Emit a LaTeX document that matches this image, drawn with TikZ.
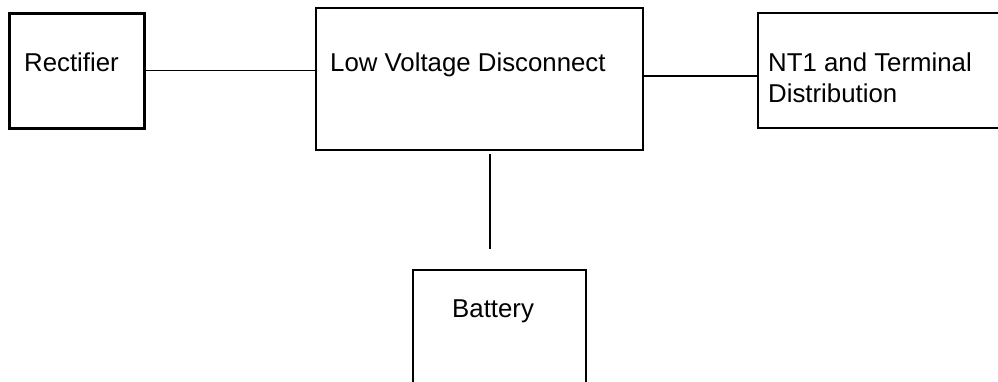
\documentclass[tikz,border=0pt]{standalone}
\usepackage{fontspec}
\setmainfont{Liberation Sans}

\begin{document}
\begin{tikzpicture}[x=1pt, y=-1pt,
        box/.style={draw, line width=2.2pt, inner sep=0pt},
        lbl/.style={font=\fontsize{25.8}{31}\selectfont, inner sep=0pt, align=left},
        wire/.style={line width=1.9pt}]
        \clip (0,0) rectangle (998,381);

        % Nodes
        \node[box, line width=3pt, minimum width=135pt, minimum height=115pt] (rect) at (76.5,70.5) {};
        \node[box, minimum width=327pt, minimum height=142pt] (lvd) at (479.5,79) {};
        \node[box, minimum width=252pt, minimum height=115pt] (nt) at (884,70.5) {};
        \node[box, minimum width=173pt, minimum height=130pt] (bat) at (499.5,335) {};
        \coordinate (tap) at (490,249);

        % Labels
        \node[lbl, anchor=base west] (rectlbl) at (24,71) {Rectifier};
        \node[lbl, anchor=base west] (lvdlbl) at (330,71) {Low Voltage Disconnect};
        \node[lbl, anchor=north west, text depth=0pt] (ntlbl) at (768,53) {NT1 and Terminal\\Distribution};
        \node[lbl, anchor=base west] (batlbl) at (452,317) {Battery};

        % Edges
        \draw[wire] (rect.east) -- (rect.east -| lvd.west);
        \draw[wire] ([yshift=3pt]lvd.east) -- ([yshift=3pt]lvd.east -| nt.west);
        \draw[wire] ([xshift=10.5pt,yshift=-3pt]lvd.south) -- (tap);
    \end{tikzpicture}
\end{document}
